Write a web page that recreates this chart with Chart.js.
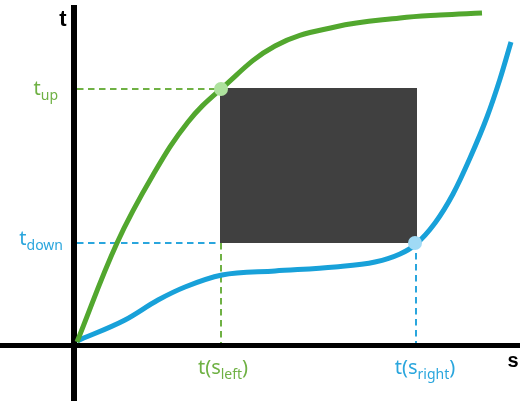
<!DOCTYPE html>
<html>
<head>
<meta charset="utf-8">
<script src="https://cdn.jsdelivr.net/npm/chart.js@4/dist/chart.umd.min.js"></script>
<style>
  html, body { margin: 0; padding: 0; background: #fff; }
  #wrap { width: 527px; height: 401px; position: relative; }
</style>
</head>
<body>
<div id="wrap"><canvas id="c"></canvas></div>
<script>
// curve samples (s, t)
var greenS = [2, 42, 78, 113, 146, 200, 260, 325, 365, 407];
var greenT = [3, 102, 170, 223, 256, 299, 318, 327, 330, 332];
var blueS = [2, 50, 83, 110, 147, 200, 260, 300, 325, 340, 360, 378, 395, 412, 425, 436];
var blueT = [4, 25, 45, 58, 70, 74, 78, 83, 91, 100, 122, 151, 187, 228, 266, 303];

// the box and the marked levels
var boxS = [145, 342];
var boxT = [102, 257];
var sLeft = 146, sRight = 340;
var tUp = 256, tDown = 102;

// axes extent
var axisS = [-75, 445];
var axisT = [-56, 340];

var upLabel = ['t', 'up'];
var downLabel = ['t', 'down'];
var leftLabel = ['t(s', 'left', ')'];
var rightLabel = ['t(s', 'right', ')'];
var axisNames = ['t', 's'];

var GREEN = '#52a72e', GREEN_TXT = '#6fb144', GREEN_DOT = '#aee29e';
var BLUE = '#18a1d9', BLUE_TXT = '#2aa6dd', BLUE_DOT = '#a0daf5';

function pts(xs, ys) {
    return xs.map(function(x, i) { return {x: x, y: ys[i]}; });
}

var labelPlugin = {
    id: 'labels',
    afterDraw: function(chart) {
        var ctx = chart.ctx, xs = chart.scales.x, ys = chart.scales.y;
        var font = '"Noto Sans", sans-serif';
        function sub(parts, x, y, color, big, small, align) {
            ctx.save();
            ctx.fillStyle = color;
            ctx.textBaseline = 'alphabetic';
            ctx.font = big + 'px ' + font;
            var w0 = ctx.measureText(parts[0]).width;
            var w2 = parts[2] ? ctx.measureText(parts[2]).width : 0;
            ctx.font = small + 'px ' + font;
            var w1 = ctx.measureText(parts[1]).width;
            var total = w0 + w1 + w2;
            var x0 = align === 'center' ? x - total / 2 : (align === 'right' ? x - total : x);
            ctx.font = big + 'px ' + font;
            ctx.fillText(parts[0], x0, y);
            ctx.font = small + 'px ' + font;
            ctx.fillText(parts[1], x0 + w0, y + 5);
            if (parts[2]) {
                ctx.font = big + 'px ' + font;
                ctx.fillText(parts[2], x0 + w0 + w1, y);
            }
            ctx.restore();
        }
        var x0 = xs.getPixelForValue(0), y0 = ys.getPixelForValue(0);
        sub(upLabel, x0 - 17, ys.getPixelForValue(tUp) + 6, GREEN_TXT, 20, 14, 'right');
        sub(downLabel, x0 - 12, ys.getPixelForValue(tDown) + 2, BLUE_TXT, 20, 14, 'right');
        sub(leftLabel, xs.getPixelForValue(sLeft) + 2, y0 + 29, GREEN_TXT, 20, 14, 'center');
        sub(rightLabel, xs.getPixelForValue(sRight) + 10, y0 + 29, BLUE_TXT, 20, 14, 'center');

        ctx.save();
        ctx.fillStyle = '#000';
        ctx.font = 'bold 22px "Liberation Sans", Arial, sans-serif';
        ctx.textAlign = 'center';
        ctx.fillText(axisNames[0], x0 - 12, ys.getPixelForValue(axisT[1]) + 21);
        ctx.font = 'bold 20px "Liberation Sans", Arial, sans-serif';
        ctx.fillText(axisNames[1], xs.getPixelForValue(axisS[1]) - 7, y0 + 22);
        ctx.restore();
    }
};

var dash = [6.5, 4.5];

new Chart(document.getElementById('c'), {
    type: 'scatter',
    data: {
        datasets: [
            // points on top
            {data: [{x: sLeft, y: tUp}], pointRadius: 7, pointBackgroundColor: GREEN_DOT, pointBorderWidth: 0, order: 0},
            {data: [{x: sRight, y: tDown}], pointRadius: 7, pointBackgroundColor: BLUE_DOT, pointBorderWidth: 0, order: 0},
            // curves
            {data: pts(greenS, greenT), showLine: true, borderColor: GREEN, borderWidth: 5, pointRadius: 0,
             tension: 0.4, borderCapStyle: 'butt', order: 1},
            {data: pts(blueS, blueT), showLine: true, borderColor: BLUE, borderWidth: 5, pointRadius: 0,
             cubicInterpolationMode: 'monotone', borderCapStyle: 'butt', order: 1},
            // box: top edge filled down to bottom edge
            {data: pts(boxS, [boxT[1], boxT[1]]), showLine: true, borderWidth: 0, pointRadius: 0,
             backgroundColor: '#404040', fill: '+1', order: 2},
            {data: pts(boxS, [boxT[0], boxT[0]]), showLine: true, borderWidth: 0, pointRadius: 0, order: 2},
            // dashed guides
            {data: pts([2, sLeft - 5], [tUp, tUp]), showLine: true, borderColor: GREEN_TXT, borderWidth: 2, borderDash: dash, pointRadius: 0, order: 3},
            {data: pts([sLeft, sLeft], [boxT[0], 2]), showLine: true, borderColor: GREEN_TXT, borderWidth: 2, borderDash: dash, pointRadius: 0, order: 3},
            {data: pts([2, boxS[0]], [tDown, tDown]), showLine: true, borderColor: BLUE_TXT, borderWidth: 2, borderDash: dash, pointRadius: 0, order: 3},
            {data: pts([sRight + 1, sRight + 1], [tDown - 10, 2]), showLine: true, borderColor: BLUE_TXT, borderWidth: 2, borderDash: dash, pointRadius: 0, order: 3},
            // axes
            {data: pts(axisS, [-0.5, -0.5]), showLine: true, borderColor: '#000', borderWidth: 5, pointRadius: 0, order: 4},
            {data: pts([-1, -1], axisT), showLine: true, borderColor: '#000', borderWidth: 6, pointRadius: 0, order: 4}
        ]
    },
    options: {
        responsive: true,
        maintainAspectRatio: false,
        animation: false,
        layout: {padding: 0, autoPadding: false},
        plugins: {legend: {display: false}, tooltip: {enabled: false}},
        scales: {
            x: {type: 'linear', display: false, min: -75, max: 452},
            y: {type: 'linear', display: false, min: -56, max: 345}
        }
    },
    plugins: [labelPlugin]
});
</script>
</body>
</html>
